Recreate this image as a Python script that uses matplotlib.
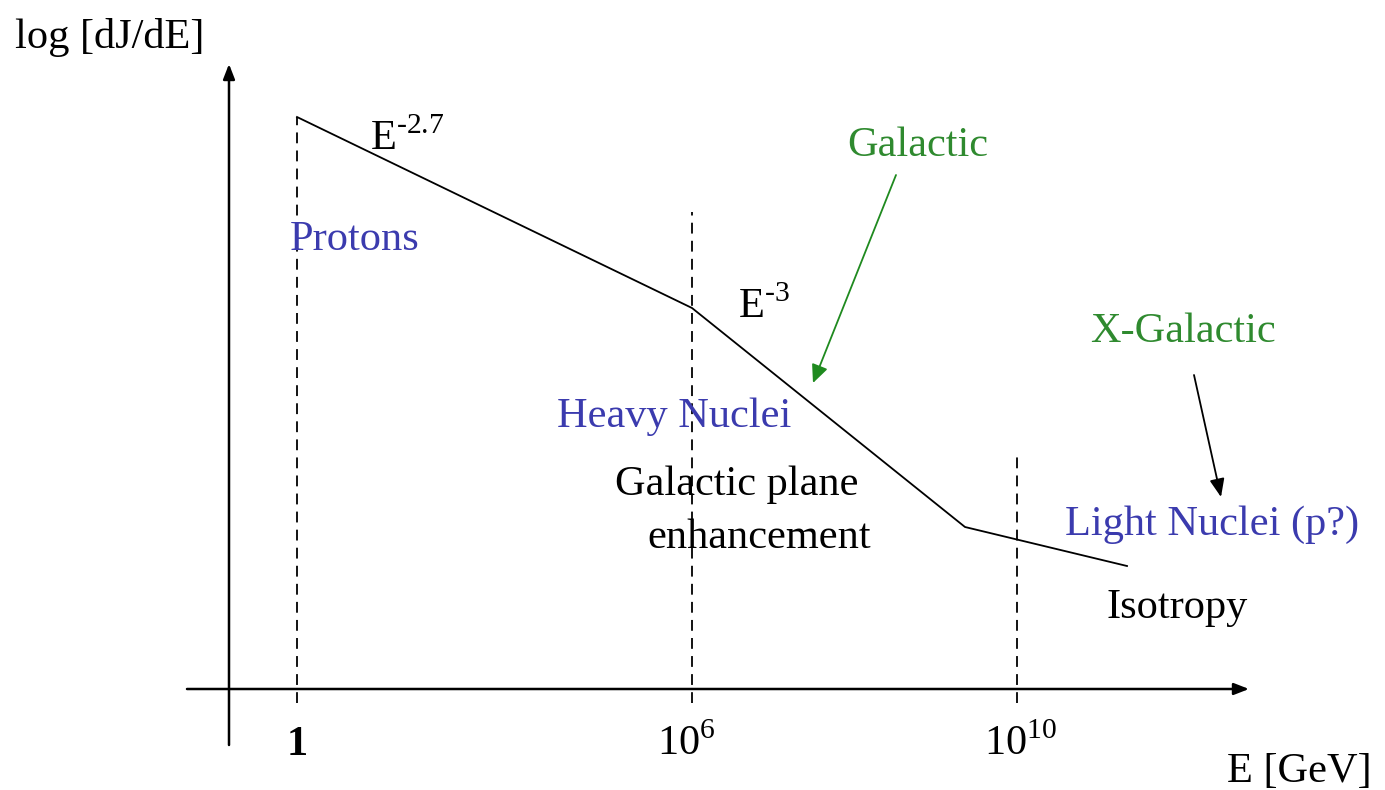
import matplotlib.pyplot as plt

# ---- schematic data (units: figure inches, origin bottom-left) ----
# broken power-law spectrum: start, knee, ankle, end
spec_x = [2.97, 6.92, 9.65, 11.27]
spec_y = [6.73, 4.82, 2.63, 2.24]

# energy ticks (schematic positions) and labels
tick_x = [2.97, 6.86, 10.21]
tick_labels = [r"$\mathbf{1}$", r"$\mathrm{10}^{\mathrm{6}}$", r"$\mathrm{10}^{\mathrm{10}}$"]
# vertical dashed guide lines: x and top end
guide_x = [2.97, 6.92, 10.17]
guide_top = [6.73, 5.78, 3.35]

axis_y0 = 1.01
axis_x0 = 2.29

BLUE = "#3b3bae"
GREEN = "#2f8a2f"

plt.rcParams["font.family"] = ["Liberation Serif", "DejaVu Serif"]
plt.rcParams["mathtext.fontset"] = "custom"
plt.rcParams["mathtext.rm"] = "Liberation Serif"
plt.rcParams["mathtext.bf"] = "Liberation Serif:bold"

fig = plt.figure(figsize=(13.85, 7.9), dpi=100)
ax = fig.add_axes([0, 0, 1, 1])
ax.set_xlim(0, 13.85)
ax.set_ylim(0, 7.9)
ax.axis("off")

# axes with arrow heads
axis_arrow = dict(arrowstyle="-|>,head_length=0.9,head_width=0.35",
                  lw=1.8, color="black", shrinkA=0, shrinkB=0)
ax.annotate("", xy=(12.49, axis_y0), xytext=(1.87, axis_y0), arrowprops=axis_arrow)
ax.annotate("", xy=(axis_x0, 7.26), xytext=(axis_x0, 0.45), arrowprops=axis_arrow)

# dashed guides
for gx, gt in zip(guide_x, guide_top):
    ax.plot([gx, gx], [0.87, gt], color="black", lw=1.3, ls=(0, (6, 4)))

# spectrum
ax.plot(spec_x, spec_y, color="black", lw=1.3)

fs = 30.5
for tx, tl in zip(tick_x, tick_labels):
    ax.text(tx, 0.35, tl, ha="center", va="baseline", fontsize=fs)

ax.text(0.15, 7.42, "log [dJ/dE]", ha="left", va="baseline", fontsize=fs)
ax.text(12.27, 0.08, "E [GeV]", ha="left", va="baseline", fontsize=fs)

# slope labels
ax.text(3.70, 6.40, r"E$^{\text{-2.7}}$", ha="left", va="baseline", fontsize=fs)
ax.text(7.38, 4.72, r"E$^{\text{-3}}$", ha="left", va="baseline", fontsize=fs)

# composition / origin labels
ax.text(2.90, 5.40, "Protons", color=BLUE, ha="left", va="baseline", fontsize=fs)
ax.text(5.57, 3.63, "Heavy Nuclei", color=BLUE, ha="left", va="baseline", fontsize=fs)
ax.text(10.65, 2.55, "Light Nuclei (p?)", color=BLUE, ha="left", va="baseline", fontsize=fs)
ax.text(6.15, 2.95, "Galactic plane", ha="left", va="baseline", fontsize=fs)
ax.text(6.47, 2.42, "enhancement", ha="left", va="baseline", fontsize=fs)
ax.text(11.07, 1.72, "Isotropy", ha="left", va="baseline", fontsize=fs)

ax.text(8.47, 6.34, "Galactic", color=GREEN, ha="left", va="baseline", fontsize=fs)
ax.text(10.90, 4.48, "X-Galactic", color=GREEN, ha="left", va="baseline", fontsize=fs)

ax.annotate("", xy=(8.13, 4.07), xytext=(8.96, 6.15),
            arrowprops=dict(arrowstyle="-|>,head_length=1.1,head_width=0.5",
                            lw=1.3, color="#1f8a1f", shrinkA=0, shrinkB=0))
ax.annotate("", xy=(12.21, 2.93), xytext=(11.94, 4.15),
            arrowprops=dict(arrowstyle="-|>,head_length=1.1,head_width=0.45",
                            lw=1.3, color="black", shrinkA=0, shrinkB=0))

fig.savefig("out.png", dpi=100, facecolor="white")
